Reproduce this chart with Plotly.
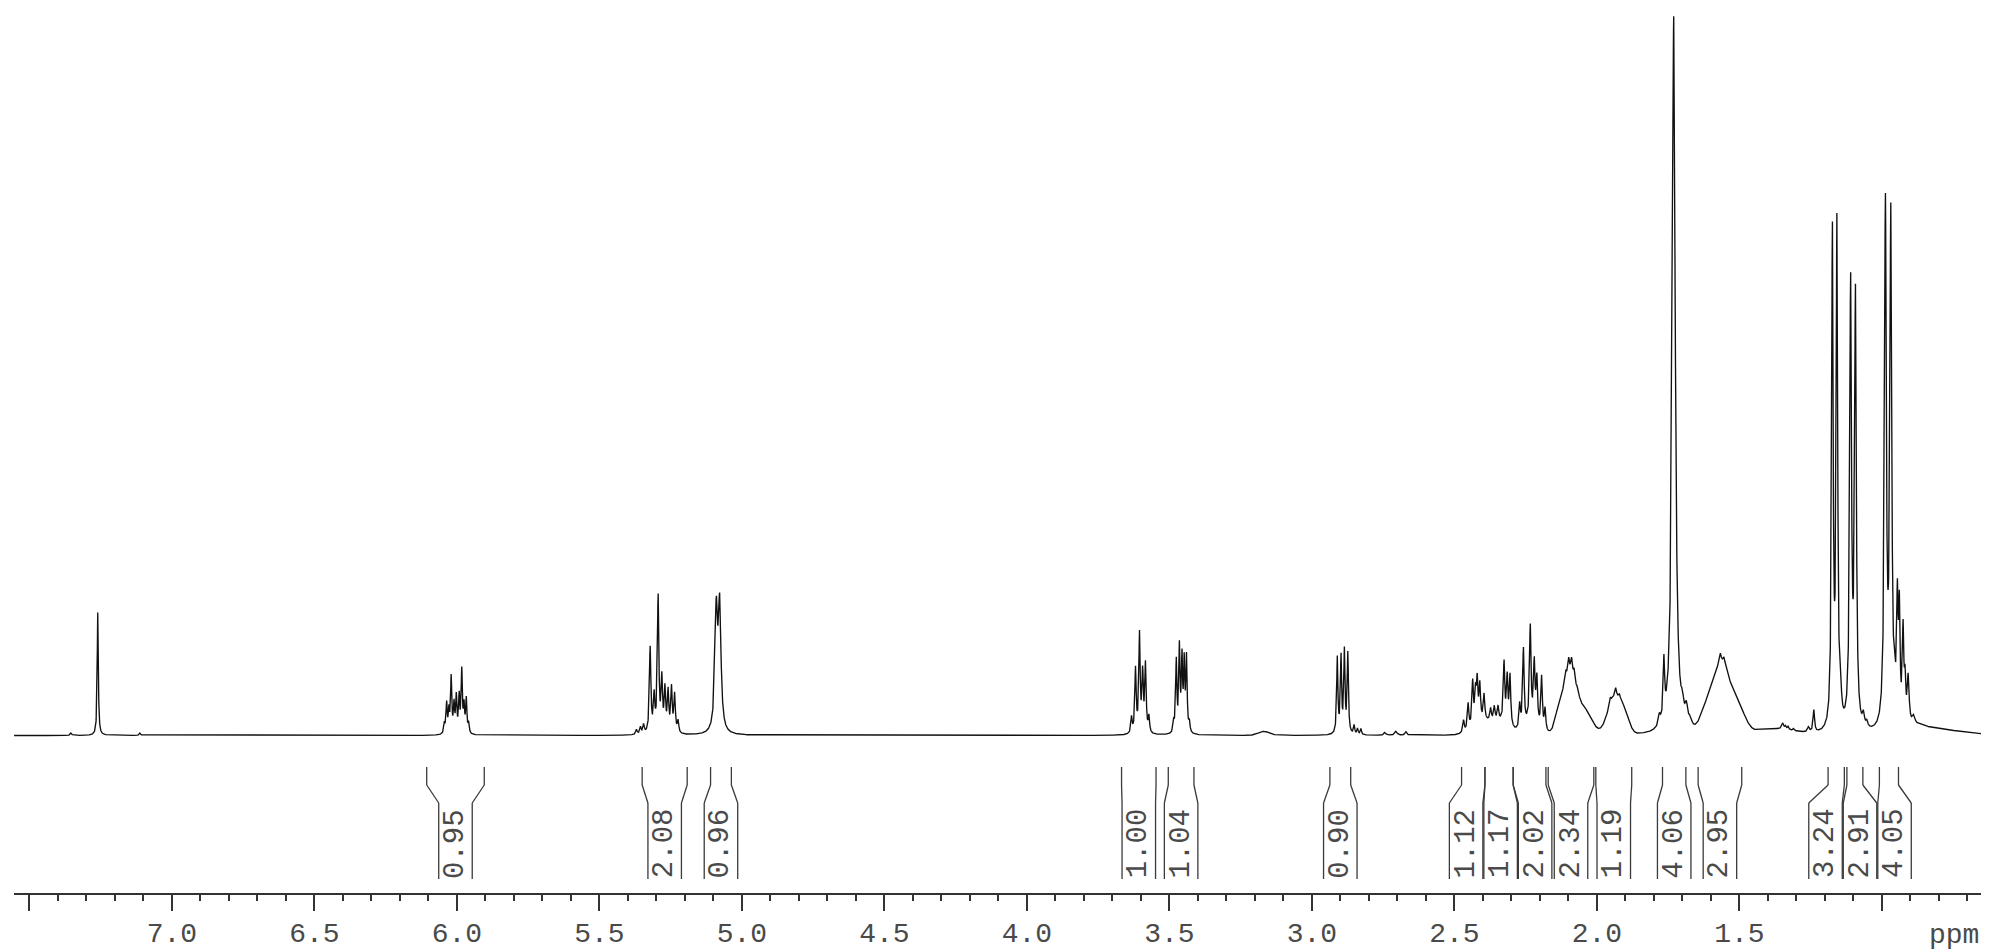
import numpy as np
import plotly.graph_objects as go

# ---------------- data ----------------
# sharp lines (Lorentzian): shift (ppm), height (px above baseline), half-width (ppm)
line_ppm = [7.354, 7.260, 7.112,
            6.044, 6.036, 6.028, 6.020, 6.010, 6.002, 5.992, 5.983, 5.975, 5.967, 5.959,
            5.370, 5.356, 5.345, 5.322, 5.308, 5.294, 5.281, 5.270, 5.259, 5.247, 5.236, 5.224,
            5.090, 5.078,
            3.633, 3.619, 3.605, 3.594, 3.584, 3.572,
            3.485, 3.476, 3.465, 3.456, 3.448, 3.440, 3.430,
            2.911, 2.898, 2.886, 2.874, 2.852, 2.840, 2.828, 2.744, 2.705, 2.670,
            2.468, 2.452, 2.436, 2.426, 2.420, 2.411, 2.396, 2.373, 2.360, 2.347,
            2.326, 2.315, 2.305, 2.271, 2.258, 2.234, 2.220, 2.211, 2.194, 2.182,
            2.109, 2.099, 2.089, 2.080, 2.067,
            1.953, 1.934, 1.921,
            1.781, 1.765, 1.7305, 1.700, 1.686, 1.672,
            1.567, 1.554,
            1.348, 1.338, 1.329, 1.310, 1.258, 1.239,
            1.174, 1.158, 1.145, 1.110, 1.093, 1.065, 1.053, 0.988, 0.969,
            0.955, 0.946, 0.939, 0.926, 0.919, 0.908, 0.889]
line_height = [2.5, 124, 2.5,
               10, 30, 22, 56, 28, 36, 36, 62, 26, 34, 10,
               5, 7, 9, 86, 35, 136, 52, 42, 40, 44, 38, 12,
               118, 122,
               16, 64, 98, 58, 68, 16,
               10, 72, 84, 72, 68, 74, 10,
               76, 76, 82, 80, 9, 6, 6, 3, 4, 3.5,
               12, 26, 44, 30, 40, 36, 26, 12, 14, 14,
               60, 46, 50, 24, 78, 95, 58, 44, 52, 22,
               8, 14, 14, 10, 6,
               6, 8, 5,
               10, 58, 718, 15, 18, 8,
               8, 6,
               6, 3, 3, 2, 5, 22,
               494, 500, 22, 441, 429, 12, 6, 521, 507,
               25, 116, 108, 92, 40, 48, 9]
line_width = [0.003, 0.0022, 0.003,
              0.0025, 0.0025, 0.0025, 0.0025, 0.0025, 0.0025, 0.0025, 0.0025, 0.0025, 0.0025, 0.0025,
              0.003, 0.003, 0.003, 0.003, 0.003, 0.003, 0.003, 0.003, 0.003, 0.003, 0.003, 0.003,
              0.0055, 0.0055,
              0.0028, 0.0028, 0.0028, 0.0028, 0.0028, 0.0028,
              0.0025, 0.0025, 0.0025, 0.0025, 0.0025, 0.0025, 0.0025,
              0.0025, 0.0025, 0.0025, 0.0025, 0.0025, 0.0025, 0.0025, 0.004, 0.005, 0.004,
              0.003, 0.003, 0.003, 0.003, 0.003, 0.003, 0.003, 0.003, 0.003, 0.003,
              0.003, 0.003, 0.003, 0.003, 0.003, 0.003, 0.003, 0.003, 0.003, 0.003,
              0.003, 0.003, 0.003, 0.003, 0.003,
              0.003, 0.003, 0.003,
              0.004, 0.003, 0.0062, 0.005, 0.006, 0.006,
              0.003, 0.003,
              0.004, 0.003, 0.003, 0.003, 0.004, 0.003,
              0.0031, 0.0031, 0.004, 0.0036, 0.0036, 0.004, 0.004, 0.0038, 0.0038,
              0.003, 0.003, 0.003, 0.003, 0.003, 0.004, 0.006]

# broad humps (Gaussian): centre (ppm), height (px), sigma (ppm)
hump_ppm = [3.168, 2.400, 2.335, 2.230, 2.135, 2.095, 2.035, 1.937, 1.900,
            1.615, 1.563, 1.505, 1.380, 0.870, 0.800, 0.700]
hump_height = [4, 12, 10, 12, 12, 62, 20, 38, 12,
               22, 70, 25, 6, 6, 5, 2]
hump_width = [0.02, 0.035, 0.03, 0.025, 0.012, 0.026, 0.022, 0.025, 0.015,
              0.022, 0.028, 0.025, 0.07, 0.03, 0.05, 0.06]

# integral regions (ppm) and their values
int_start = [6.106, 5.350, 5.110, 3.668, 3.504, 2.937, 2.475, 2.393, 2.294,
             2.171, 2.004, 1.770, 1.645, 1.189, 1.123, 1.009]
int_end = [5.904, 5.192, 5.037, 3.547, 3.414, 2.864, 2.393, 2.294, 2.179,
           2.011, 1.878, 1.688, 1.492, 1.132, 1.067, 0.942]
int_value = ["0.95", "2.08", "0.96", "1.00", "1.04", "0.90", "1.12", "1.17", "2.02",
             "2.34", "1.19", "4.06", "2.95", "3.24", "2.91", "4.05"]

tick_values = [7.5, 7.0, 6.5, 6.0, 5.5, 5.0, 4.5, 4.0, 3.5, 3.0, 2.5, 2.0, 1.5, 1.0]
tick_labels = ["", "7.0", "6.5", "6.0", "5.5", "5.0", "4.5", "4.0", "3.5", "3.0",
               "2.5", "2.0", "1.5", ""]
axis_unit = "ppm"

# ---------------- layout constants (page pixels) ----------------
PAGE_W, PAGE_H = 1989, 951
PAGE_PAD = 8                        # default body margin of the html page
W, H = PAGE_W - PAGE_PAD, PAGE_H - PAGE_PAD
PLOT_L, PLOT_R = 14, 1982          # plot area, page x
AXIS_Y = 894                       # x-axis line, page y
M_L = PLOT_L - PAGE_PAD
M_R = W - (PLOT_R - PAGE_PAD)
M_T = 0
M_B = H - (AXIS_Y - PAGE_PAD)
X_LEFT, X_RIGHT = 7.554, 0.649
plot_w = W - M_L - M_R
plot_h = H - M_T - M_B
ppm_per_px = (X_LEFT - X_RIGHT) / plot_w
BASE_Y = 737                       # spectrum baseline, page y
FONT = "Liberation Mono"
INK = "#333333"
TEXT = "#4a4a4a"


def ypaper(page_y):
    return (plot_h - (page_y - PAGE_PAD - M_T)) / plot_h


# ---------------- spectrum ----------------
x = np.arange(X_RIGHT, X_LEFT, 0.0004)
y = np.zeros_like(x)
for c, h, g in zip(line_ppm, line_height, line_width):
    y += h / (1.0 + ((x - c) / g) ** 2)
for c, h, s in zip(hump_ppm, hump_height, hump_width):
    y += h * np.exp(-((x - c) ** 2) / (2 * s * s))

fig = go.Figure()
fig.add_trace(go.Scatter(x=x, y=y, mode="lines",
                         line=dict(color="#111111", width=1.35),
                         hoverinfo="skip", showlegend=False))

# ---------------- integrals ----------------
box_w = 33.5 * ppm_per_px
min_sep = 34.5 * ppm_per_px
pos = [(s + e) / 2 for s, e in zip(int_start, int_end)]
for _ in range(2000):
    moved = False
    for i in range(len(pos) - 1):
        gap = pos[i] - pos[i + 1]
        if gap < min_sep - 1e-9:
            d = (min_sep - gap) / 2
            pos[i] += d
            pos[i + 1] -= d
            moved = True
    if not moved:
        break

Y_TOP, Y_BEND1, Y_BEND2, Y_BOT = 767, 785, 803, 879
shapes = []
annotations = []
for s, e, p, v in zip(int_start, int_end, pos, int_value):
    bl, br = p + box_w / 2, p - box_w / 2
    for top_x, bot_x in ((s, bl), (e, br)):
        pts = [(top_x, Y_TOP), (top_x, Y_BEND1), (bot_x, Y_BEND2), (bot_x, Y_BOT)]
        for (x0, y0), (x1, y1) in zip(pts[:-1], pts[1:]):
            shapes.append(dict(type="line", xref="x", yref="paper",
                               x0=x0, x1=x1, y0=ypaper(y0), y1=ypaper(y1),
                               line=dict(color="#3a3a3a", width=1.3)))
    annotations.append(dict(text=v, x=p, xref="x", y=ypaper(843.5), yref="paper",
                            textangle=-90, showarrow=False,
                            xanchor="center", yanchor="middle",
                            font=dict(family=FONT, size=29, color=TEXT)))

annotations.append(dict(text=axis_unit, x=(1954 - PLOT_L) / plot_w, xref="paper",
                        y=ypaper(935), yref="paper", showarrow=False,
                        xanchor="center", yanchor="middle",
                        font=dict(family=FONT, size=28, color=TEXT)))

fig.update_layout(
    width=W, height=H,
    margin=dict(l=M_L, r=M_R, t=M_T, b=M_B, pad=0),
    paper_bgcolor="white", plot_bgcolor="white",
    shapes=shapes, annotations=annotations,
    xaxis=dict(range=[X_LEFT, X_RIGHT], anchor="free", position=0,
               showgrid=False, zeroline=False,
               showline=True, linecolor=INK, linewidth=2,
               tickmode="array", tickvals=tick_values, ticktext=tick_labels,
               ticks="outside", ticklen=16, tickwidth=2, tickcolor=INK,
               ticklabelstandoff=-3,
               tickfont=dict(family=FONT, size=28, color=TEXT),
               minor=dict(tickmode="linear", tick0=0, dtick=0.1, ticks="outside",
                          ticklen=6, tickwidth=1.6, tickcolor=INK, showgrid=False)),
    yaxis=dict(domain=[ypaper(BASE_Y), 1], range=[-1.5, (BASE_Y - PAGE_PAD) - 1.5],
               visible=False, showgrid=False, zeroline=False),
)

fig.write_html("out.html")
